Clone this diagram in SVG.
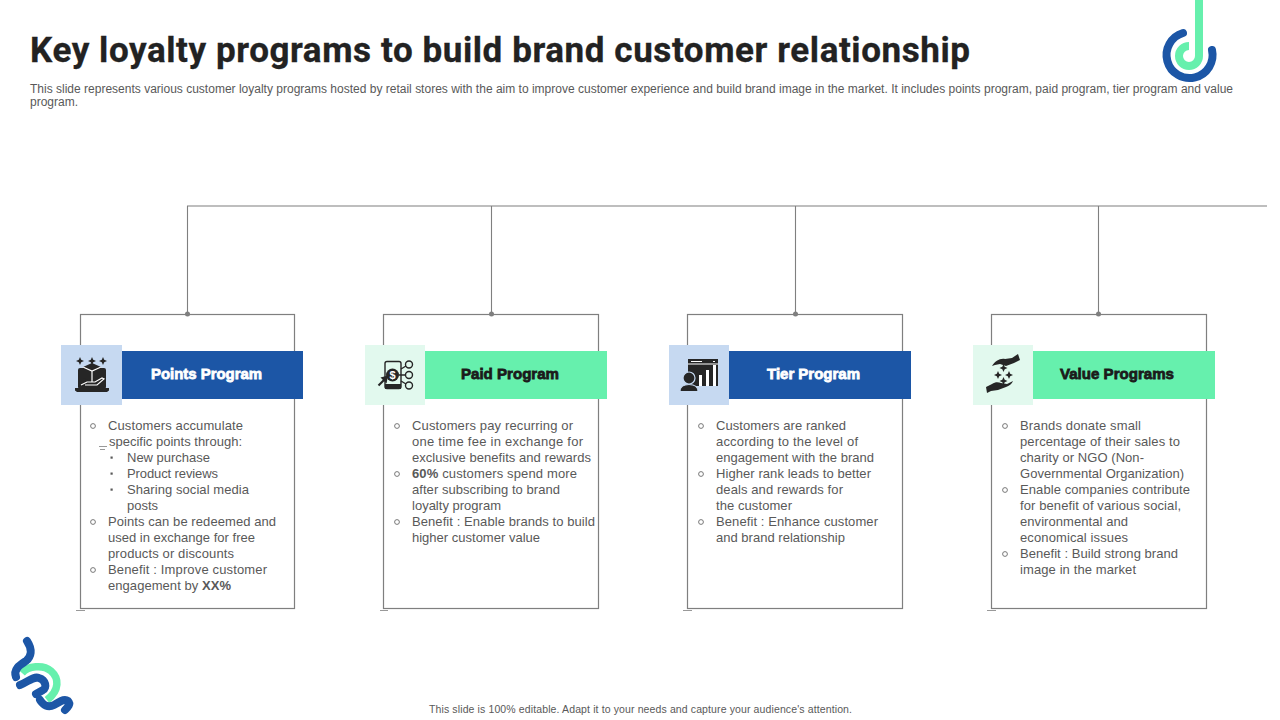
<svg xmlns="http://www.w3.org/2000/svg" width="1280" height="720" viewBox="0 0 1280 720">
<style>
text{font-family:"Liberation Sans",Arial,sans-serif}
.t{font-family:Roboto,"Liberation Sans",sans-serif;font-weight:700;font-size:35px;fill:#222;stroke:#222;stroke-width:.3px}
.s{font-size:12px;fill:#595959}
.f{font-size:10.500px;fill:#595959}
.b{font-size:13px;fill:#595959}
.h{font-size:15.500px;font-weight:700;stroke-width:.8px}
.w{fill:#fff;stroke:#fff}.k{fill:#1b1b1b;stroke:#1b1b1b}
.box{fill:none;stroke:#7f7f7f;stroke-width:1.2}
.c{fill:none;stroke:#7f7f7f;stroke-width:1.1}
.dot{fill:#7f7f7f}
.ic{fill:#262626}
.il{fill:none;stroke:#262626;stroke-width:1.400}
.iw{fill:none;stroke:#fff;stroke-width:1.200}
.o{fill:none;stroke:#6a6a6a;stroke-width:.9}
.sq{fill:#595959}
.blu{fill:#1c56a6}.grn{fill:#66f0ad}.lb{fill:#c6d9f1}.lg{fill:#e2f9ee}
</style>
<defs>
<circle id="bu" r="2.400" class="o"/>
<path id="st" d="M0-4 1.200-1.200 4 0 1.200 1.200 0 4-1.200 1.200-4 0-1.200-1.200z" class="ic"/>
</defs>
<text class="t" x="30" y="62" textLength="940">Key loyalty programs to build brand customer relationship</text>
<text class="s" x="30" y="92.500" textLength="1203">This slide represents various customer loyalty programs hosted by retail stores with the aim to improve customer experience and build brand image in the market. It includes points program, paid program, tier program and value</text>
<text class="s" x="30" y="106">program.</text>
<g id="logo-top">
<path d="M1199 0V56A10 10 0 1 1 1189 46" fill="none" stroke="#66f0ad" stroke-width="8"/>
<path d="M1183 33A23 23 0 1 0 1212 50" fill="none" stroke="#1c56a6" stroke-width="8" stroke-linecap="round"/>
</g>
<g id="connectors">
<path class="c" d="M1267 206H187.500V314M491.500 206V314M795.500 206V314M1098.500 206V314"/>
<circle class="dot" cx="187.500" cy="314" r="2.500"/><circle class="dot" cx="491.500" cy="314" r="2.500"/><circle class="dot" cx="795.500" cy="314" r="2.500"/><circle class="dot" cx="1098.500" cy="314" r="2.500"/>
<path class="c" style="stroke-width:.8" d="M76 610.500H85M380 610.500H388M683 610.500H692M987 610.500H996M99 446.500H107M100 449.500H105"/>
</g>
<g id="node-points">
<rect class="box" x="80.500" y="314.500" width="214" height="294"/>
<rect class="blu" x="122" y="351" width="181" height="48"/>
<rect class="lb" x="61" y="345" width="61" height="60"/>
<text class="h w" x="151" y="379" textLength="111" lengthAdjust="spacingAndGlyphs">Points Program</text>
<rect class="ic" x="78" y="368" width="28" height="21" rx="2"/>
<path class="ic" d="M75 388h34v2.500l-2 1.500h-30l-2-1.500z"/>
<path class="ic" d="M83 367l9-4 9 4v11l-9 4-9-4z"/>
<path class="iw" d="M83 367l9 4 9-4M92 371v11M81 385l6-3h8l7-4 2 1-7 6H85"/>
<use href="#st" x="92" y="361"/><use href="#st" x="80" y="361"/><use href="#st" x="103" y="361"/>
<text class="b" x="108" y="430" textLength="135">Customers accumulate</text>
<text class="b" x="109" y="446" textLength="133">specific points through:</text>
<text class="b" x="127" y="462" textLength="83">New purchase</text>
<text class="b" x="127" y="478" textLength="91">Product reviews</text>
<text class="b" x="127" y="494" textLength="122">Sharing social media</text>
<text class="b" x="127" y="510" textLength="31">posts</text>
<text class="b" x="108" y="526" textLength="168">Points can be redeemed and</text>
<text class="b" x="108" y="542" textLength="147">used in exchange for free</text>
<text class="b" x="108" y="558" textLength="126">products or discounts</text>
<text class="b" x="108" y="574" textLength="159">Benefit : Improve customer</text>
<text class="b" x="108" y="590" textLength="123">engagement by <tspan font-weight="700">XX%</tspan></text>
<use href="#bu" x="93" y="426"/><use href="#bu" x="93" y="522"/><use href="#bu" x="93" y="570"/>
<rect class="sq" x="110.500" y="456.500" width="2.200" height="2.200"/><rect class="sq" x="110.500" y="472.500" width="2.200" height="2.200"/><rect class="sq" x="110.500" y="488.500" width="2.200" height="2.200"/>
</g>
<g id="node-paid">
<rect class="box" x="383.500" y="314.500" width="215" height="294"/>
<rect class="grn" x="425" y="351" width="182" height="48"/>
<rect class="lg" x="365" y="345" width="60" height="60"/>
<text class="h k" x="461" y="379" textLength="98" lengthAdjust="spacingAndGlyphs">Paid Program</text>
<rect class="il" x="385" y="361.500" width="16" height="27" rx="2"/>
<rect class="ic" x="385" y="384" width="16" height="5"/>
<circle class="ic" cx="392.500" cy="375" r="6.500"/>
<text x="392.500" y="379" text-anchor="middle" style="font-size:11px;font-weight:700;fill:#fff">$</text>
<path class="il" style="stroke-width:2.200" d="M378.500 385.500l6-6"/><path class="ic" d="M388 375.500l-1.500 8-6-6z"/>
<path class="il" d="M401 369l5-3M399 375h7M401 381l5 3"/>
<circle class="il" cx="409" cy="364.500" r="3.500"/><circle class="il" cx="409" cy="375" r="3.500"/><circle class="il" cx="409" cy="385.500" r="3.500"/>
<text class="b" x="412" y="430" textLength="161">Customers pay recurring or</text>
<text class="b" x="412" y="446" textLength="171">one time fee in exchange for</text>
<text class="b" x="412" y="462" textLength="179">exclusive benefits and rewards</text>
<text class="b" x="412" y="478" textLength="165"><tspan font-weight="700">60%</tspan> customers spend more</text>
<text class="b" x="412" y="494" textLength="148">after subscribing to brand</text>
<text class="b" x="412" y="510" textLength="89">loyalty program</text>
<text class="b" x="412" y="526" textLength="183">Benefit : Enable brands to build</text>
<text class="b" x="412" y="542" textLength="128">higher customer value</text>
<use href="#bu" x="397" y="426"/><use href="#bu" x="397" y="474"/><use href="#bu" x="397" y="522"/>
</g>
<g id="node-tier">
<rect class="box" x="687.500" y="314.500" width="215" height="294"/>
<rect class="blu" x="729" y="351" width="182" height="48"/>
<rect class="lb" x="669" y="345" width="60" height="60"/>
<text class="h w" x="767" y="379" textLength="93" lengthAdjust="spacingAndGlyphs">Tier Program</text>
<rect class="ic" x="688" y="359" width="30" height="27"/>
<path class="iw" d="M691 361.500h11M713 361.500h2M688 364h30"/>
<path fill="#fff" d="M699 375h3v11h-3zM706 370h3v16h-3zM713 365h3v21h-3z"/>
<circle class="ic" cx="689" cy="378" r="6" stroke="#c6d9f1" stroke-width="1.200"/>
<path class="ic" stroke="#c6d9f1" stroke-width="1.200" d="M680 391.500c0-5 4-7 9-7s9 2 9 7z"/>
<text class="b" x="716" y="430" textLength="130">Customers are ranked</text>
<text class="b" x="716" y="446" textLength="142">according to the level of</text>
<text class="b" x="716" y="462" textLength="158">engagement with the brand</text>
<text class="b" x="716" y="478" textLength="155">Higher rank leads to better</text>
<text class="b" x="716" y="494" textLength="127">deals and rewards for</text>
<text class="b" x="716" y="510" textLength="76">the customer</text>
<text class="b" x="716" y="526" textLength="162">Benefit : Enhance customer</text>
<text class="b" x="716" y="542" textLength="129">and brand relationship</text>
<use href="#bu" x="701" y="426"/><use href="#bu" x="701" y="474"/><use href="#bu" x="701" y="522"/>
</g>
<g id="node-value">
<rect class="box" x="991.500" y="314.500" width="215" height="294"/>
<rect class="grn" x="1033" y="351" width="182" height="48"/>
<rect class="lg" x="973" y="345" width="60" height="60"/>
<text class="h k" x="1060" y="379" textLength="114" lengthAdjust="spacingAndGlyphs">Value Programs</text>
<path class="ic" d="M992 366c3-5 8-8 13-7l7-1 6-4 2 6-6 3-8 3-6-2-5 1z"/>
<path class="ic" d="M987 393l-1-6 6-3c3-2 6-2 9-1l6 1 6-3c-1 3-4 5-7 6l-8 3-7 1z"/>
<use href="#st" x="1003.500" y="368"/><use href="#st" x="998" y="375"/><use href="#st" x="1009" y="375"/><use href="#st" x="1003.500" y="381"/>
<text class="b" x="1020" y="430" textLength="121">Brands donate small</text>
<text class="b" x="1020" y="446" textLength="160">percentage of their sales to</text>
<text class="b" x="1020" y="462" textLength="124">charity or NGO (Non-</text>
<text class="b" x="1020" y="478" textLength="164">Governmental Organization)</text>
<text class="b" x="1020" y="494" textLength="170">Enable companies contribute</text>
<text class="b" x="1020" y="510" textLength="161">for benefit of various social,</text>
<text class="b" x="1020" y="526" textLength="108">environmental and</text>
<text class="b" x="1020" y="542" textLength="108">economical issues</text>
<text class="b" x="1020" y="558" textLength="158">Benefit : Build strong brand</text>
<text class="b" x="1020" y="574" textLength="116">image in the market</text>
<use href="#bu" x="1005" y="426"/><use href="#bu" x="1005" y="490"/><use href="#bu" x="1005" y="554"/>
</g>
<g id="logo-bottom">
<path d="M22 673C28 666 43 664 51 671C59 678 60 690 47 700" fill="none" stroke="#66f0ad" stroke-width="7.500"/>
<path d="M27 641C33 650 31 657 26 661C20 665 13 669 16 677M20 685C28 682 33 676 39 678C46 680 47 688 43 690L36 694M40 700C43 705 48 708 54 705C60 702 64 698 68 701C71 704 68 707 65 710" fill="none" stroke="#1c56a6" stroke-width="8" stroke-linecap="round"/>
</g>
<text class="f" x="429" y="713" textLength="423">This slide is 100% editable. Adapt it to your needs and capture your audience's attention.</text>
</svg>
